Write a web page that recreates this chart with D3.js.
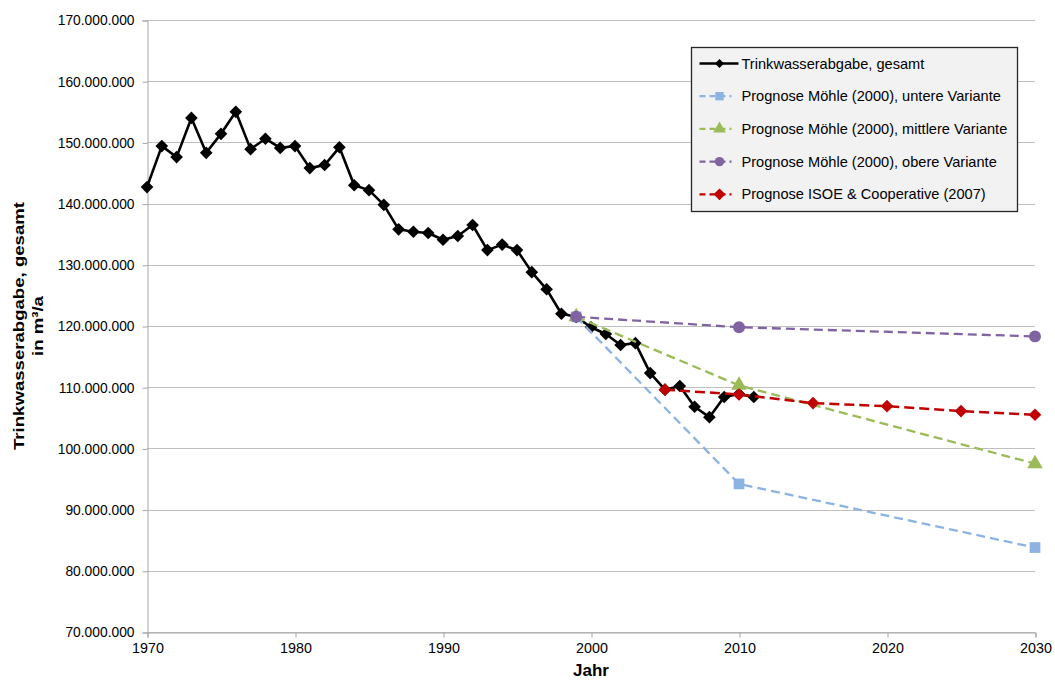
<!DOCTYPE html>
<html>
<head>
<meta charset="utf-8">
<script src="https://cdn.jsdelivr.net/npm/d3@7"></script>
<style>
  body { margin: 0; background: #fff; }
  svg { display: block; font-family: "Liberation Sans", Arial, sans-serif; }
</style>
</head>
<body>
<svg id="chart" width="1055" height="680"></svg>
<script>
// Trinkwasserabgabe (total drinking water supply), m³ per year
const years = d3.range(1970, 2012);
const totalValues = [
  142.7, 149.4, 147.6, 154.0, 148.3, 151.4, 155.0, 148.9, 150.6, 149.1,
  149.4, 145.8, 146.3, 149.2, 143.0, 142.2, 139.8, 135.8, 135.4, 135.2,
  134.1, 134.7, 136.5, 132.4, 133.3, 132.4, 128.8, 126.0, 122.0, 121.5,
  119.8, 118.7, 116.9, 117.2, 112.3, 109.6, 110.2, 106.8, 105.1, 108.4,
  108.9, 108.4
].map(v => v * 1e6);

// Forecast Möhle (2000)
const moehleYears = [1999, 2010, 2030];
const moehleLower = [121.5, 94.2, 83.8].map(v => v * 1e6);
const moehleMiddle = [121.5, 110.3, 97.5].map(v => v * 1e6);
const moehleUpper = [121.5, 119.8, 118.3].map(v => v * 1e6);

// Forecast ISOE & Cooperative (2007)
const isoeYears = [2005, 2010, 2015, 2020, 2025, 2030];
const isoeValues = [109.6, 108.8, 107.4, 106.9, 106.1, 105.5].map(v => v * 1e6);

const xTicks = [1970, 1980, 1990, 2000, 2010, 2020, 2030];
const yTicks = d3.range(70e6, 170e6 + 1, 10e6);

const legendLabels = [
  "Trinkwasserabgabe, gesamt",
  "Prognose Möhle (2000), untere Variante",
  "Prognose Möhle (2000), mittlere Variante",
  "Prognose Möhle (2000), obere Variante",
  "Prognose ISOE & Cooperative (2007)"
];

const svg = d3.select("#chart");
const m = { left: 147, right: 1035, top: 20, bottom: 632 };

const x = d3.scaleLinear().domain([1970, 2030]).range([m.left, m.right]);
const y = d3.scaleLinear().domain([70e6, 170e6]).range([m.bottom, m.top]);

const fmt = v => d3.format(",.0f")(v).replace(/,/g, ".");

// gridlines
svg.append("g")
  .selectAll("line")
  .data(yTicks)
  .join("line")
  .attr("x1", m.left).attr("x2", m.right)
  .attr("y1", d => Math.round(y(d)) + 0.5).attr("y2", d => Math.round(y(d)) + 0.5)
  .attr("stroke", "#c0c0c0").attr("stroke-width", 1);

// y axis
const yAxis = svg.append("g")
  .attr("transform", `translate(${m.left + 0.5},0.5)`)
  .call(d3.axisLeft(y).tickValues(yTicks).tickFormat(fmt).tickSize(5).tickPadding(8));
yAxis.select(".domain").attr("stroke", "#a6a6a6");
yAxis.selectAll(".tick line").attr("stroke", "#a6a6a6");
yAxis.selectAll("text").attr("font-size", 13.8).attr("fill", "#000")
  .attr("font-family", "'Liberation Sans', Arial, sans-serif");

// x axis
const xAxis = svg.append("g")
  .attr("transform", `translate(0.5,${m.bottom + 0.5})`)
  .call(d3.axisBottom(x).tickValues(xTicks).tickFormat(d3.format("d")).tickSize(5).tickPadding(5));
xAxis.select(".domain").attr("stroke", "#a6a6a6");
xAxis.selectAll(".tick line").attr("stroke", "#a6a6a6");
xAxis.selectAll("text").attr("font-size", 14.3).attr("fill", "#000")
  .attr("font-family", "'Liberation Sans', Arial, sans-serif");

// axis titles
svg.append("text")
  .attr("x", x(2000)).attr("y", 676)
  .attr("text-anchor", "middle").attr("font-size", 17).attr("font-weight", "bold")
  .text("Jahr");

const yTitle = svg.append("text")
  .attr("transform", `translate(0, ${(m.top + m.bottom) / 2}) rotate(-90) scale(1.2,1)`)
  .attr("text-anchor", "middle").attr("font-size", 15.5).attr("font-weight", "bold");
yTitle.append("tspan").attr("x", 0).attr("y", 24).text("Trinkwasserabgabe, gesamt");
yTitle.append("tspan").attr("x", 0).attr("y", 43).text("in m³/a");

const line = d3.line().x(d => x(d[0])).y(d => y(d[1]));

const symbolPath = (type, size) => d3.symbol().type(type).size(size)();
const diamond = {
  draw(ctx, size) {
    const r = Math.sqrt(size / 2);
    ctx.moveTo(0, -r); ctx.lineTo(r, 0); ctx.lineTo(0, r); ctx.lineTo(-r, 0); ctx.closePath();
  }
};

const series = [
  { name: legendLabels[0], xs: years, ys: totalValues, color: "#000000", dash: null, width: 2.6, symbol: diamond, size: 80 },
  { name: legendLabels[1], xs: moehleYears, ys: moehleLower, color: "#8db3e2", dash: "9,5", width: 2.3, symbol: d3.symbolSquare, size: 115 },
  { name: legendLabels[2], xs: moehleYears, ys: moehleMiddle, color: "#9bbb59", dash: "9,5", width: 2.3, symbol: d3.symbolTriangle, size: 105 },
  { name: legendLabels[3], xs: moehleYears, ys: moehleUpper, color: "#8064a2", dash: "9,5", width: 2.3, symbol: d3.symbolCircle, size: 112 },
  { name: legendLabels[4], xs: isoeYears, ys: isoeValues, color: "#c00000", dash: "10,5", width: 2.5, symbol: diamond, size: 80 }
];

// observed series first, forecasts drawn over it
series.forEach(s => {
  const pts = s.xs.map((xv, j) => [xv, s.ys[j]]);
  svg.append("path")
    .datum(pts)
    .attr("d", line)
    .attr("fill", "none")
    .attr("stroke", s.color)
    .attr("stroke-width", s.width)
    .attr("stroke-dasharray", s.dash)
    .attr("stroke-linejoin", "round");
  svg.append("g")
    .selectAll("path")
    .data(pts)
    .join("path")
    .attr("transform", d => `translate(${x(d[0])},${y(d[1])})`)
    .attr("d", symbolPath(s.symbol, s.size))
    .attr("fill", s.color);
});

// legend
const lg = svg.append("g").attr("transform", "translate(691.5,47.5)");
lg.append("rect").attr("width", 326).attr("height", 164)
  .attr("fill", "#f2f2f2").attr("stroke", "#262626").attr("stroke-width", 1.3);

series.forEach((s, k) => {
  const cy = 16 + k * 32.7;
  const g = lg.append("g").attr("transform", `translate(0,${cy})`);
  g.append("line")
    .attr("x1", 8).attr("x2", s.dash ? 40 : 47).attr("y1", 0).attr("y2", 0)
    .attr("stroke", s.color).attr("stroke-width", s.dash ? 2.2 : 2.4)
    .attr("stroke-dasharray", s.dash ? "6,4" : null);
  g.append("path")
    .attr("transform", "translate(28,0)")
    .attr("d", symbolPath(s.symbol, s.dash ? 70 : 40))
    .attr("fill", s.color);
  g.append("text")
    .attr("x", 50).attr("y", 5)
    .attr("font-size", 14.6).attr("fill", "#000")
    .text(s.name);
});
</script>
</body>
</html>
